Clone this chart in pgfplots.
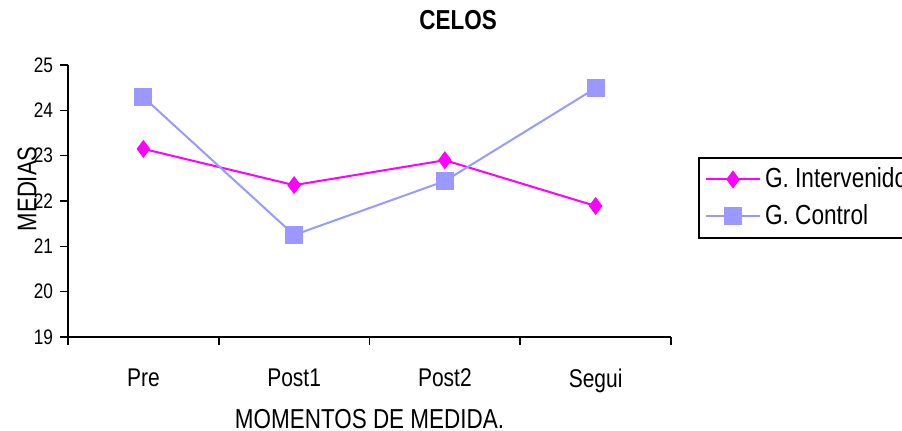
\documentclass[border=0pt]{standalone}
\usepackage{pgfplots}
\pgfplotsset{compat=1.18}
\usepackage{fontspec}
\setmainfont[FakeStretch=0.82]{Liberation Sans}
\definecolor{mag}{RGB}{255,0,255}
\definecolor{lav}{RGB}{153,153,255}
\begin{document}
\begin{tikzpicture}
\useasboundingbox (0,0) rectangle (451pt,215.5pt);
\clip (0,0) rectangle (451pt,215.5pt);
\begin{axis}[
  scale only axis,
  width=301.5pt, height=136pt,
  at={(34pt,47pt)}, anchor=south west,
  axis x line*=bottom, axis y line*=left,
  axis line style={line width=1pt},
  xmin=-0.5, xmax=3.5, ymin=19, ymax=25,
  ytick={19,...,25},
  xtick={-0.5,0.5,1.5,2.5,3.5}, xticklabels={},
  extra x ticks={0,1,2,3},
  extra x tick labels={Pre,Post1,Post2,Segui},
  extra x tick style={major tick length=0pt, tick label style={font=\fontsize{12.8}{14}\selectfont, yshift=-12.5pt}},
  tick align=outside, major tick length=4pt,
  tick style={line width=0.8pt, black},
  /pgf/number format/assume math mode=true,
  yticklabel style={font=\fontsize{10.5}{12}\selectfont},
  title={\textbf{CELOS}},
  title style={at={(axis description cs:0.647,1.121)}, anchor=center, font=\fontsize{13.7}{15}\selectfont},
  xlabel={MOMENTOS DE MEDIDA.},
  xlabel style={at={(axis description cs:0.5,-0.300)}, anchor=center, font=\fontsize{13.7}{15}\selectfont},
  ylabel={MEDIAS},
  ylabel style={at={(axis description cs:-0.068,0.545)}, anchor=center, font=\fontsize{13.5}{15}\selectfont},
  legend style={at={(axis description cs:1.0448,0.662)}, anchor=north west, draw=black, line width=1pt,
    font=\fontsize{13.8}{15}\selectfont, row sep=3pt, inner sep=3pt},
  legend cell align=left,
  legend image code/.code={\draw[mark repeat=2, mark phase=2, #1] plot coordinates {(0pt,0pt) (13.5pt,0pt) (27pt,0pt)};},
]
\addplot[mag, line width=1pt, mark=diamond*, mark size=3.7pt, mark options={fill=mag}]
  coordinates {(0,23.15) (1,22.35) (2,22.90) (3,21.89)};
\addlegendentry{G. Intervenido}
\addplot[lav, line width=1pt, mark=square*, mark size=4pt, mark options={fill=lav}]
  coordinates {(0,24.29) (1,21.25) (2,22.44) (3,24.49)};
\addlegendentry{G. Control}
\end{axis}
\end{tikzpicture}
\end{document}
